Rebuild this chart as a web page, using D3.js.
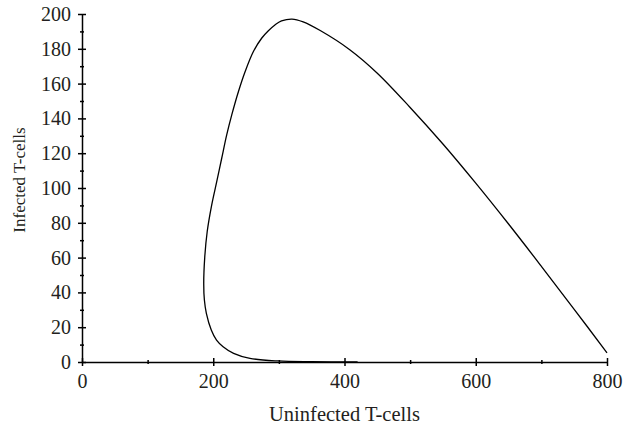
<!DOCTYPE html>
<html>
<head>
<meta charset="utf-8">
<script src="https://cdn.jsdelivr.net/npm/d3@7"></script>
<style>
  body { margin: 0; background: #fff; }
  text { font-family: "Liberation Serif", "DejaVu Serif", serif; fill: #231f20; }
</style>
</head>
<body>
<div id="chart"></div>
<script>
// Dimensions of the graph
const width = 623;
const height = 426;
const margin = { top: 14, right: 16, bottom: 64, left: 82 };
const innerW = width - margin.left - margin.right;
const innerH = height - margin.top - margin.bottom;

// Trajectory (uninfected, infected)
const uninfected = [800, 750, 700, 650, 600, 550, 500, 450, 408, 363, 337, 320, 304, 294, 284, 274, 261, 248.5, 238.3, 228.2, 220.5, 212.9, 205.3, 197.6, 190.8, 187, 185.5, 186.5, 189.5, 197, 205, 215, 231, 256, 299, 350, 420];
const infected   = [5.3, 30.3, 55, 79.3, 102.8, 125.3, 146.3, 166, 179.5, 190.5, 195.5, 197.1, 196, 193.7, 190.4, 186.2, 178.3, 166.8, 155.3, 142, 130.5, 117.1, 103.6, 90.2, 75, 60, 45, 35.6, 28, 18.4, 12.6, 8.8, 5, 2.1, 0.6, 0.15, 0];

const xMajor = [0, 200, 400, 600, 800];
const xMinor = [100, 300, 500, 700];
const yMajor = [0, 20, 40, 60, 80, 100, 120, 140, 160, 180, 200];
const yMinor = [10, 30, 50, 70, 90, 110, 130, 150, 170, 190];

const data = uninfected.map((u, i) => ({ u: u, v: infected[i] }));

const svg = d3
  .select("#chart")
  .append("svg")
  .attr("width", width)
  .attr("height", height)
  .append("g")
  .attr("transform", `translate(${margin.left}, ${margin.top})`);

const xScale = d3.scaleLinear().domain([0, 800]).range([0, innerW]);
const yScale = d3.scaleLinear().domain([0, 200]).range([innerH, 0]);

// Curve
const line = d3
  .line()
  .x((d) => xScale(d.u))
  .y((d) => yScale(d.v))
  .curve(d3.curveCatmullRom.alpha(0.5));

svg
  .append("path")
  .datum(data)
  .attr("d", line)
  .style("fill", "none")
  .style("stroke", "#000")
  .style("stroke-width", 1.3);

// x axis
const xAxis = svg
  .append("g")
  .attr("transform", `translate(0, ${innerH})`)
  .call(d3.axisBottom(xScale).tickValues(xMajor).tickSizeOuter(0).tickFormat(d3.format("d")));
xAxis.selectAll(".tick line").attr("y1", -4).attr("y2", 4);
xAxis.selectAll(".tick text").attr("y", 12).attr("dy", "0.71em");

const xAxisMinor = svg
  .append("g")
  .attr("transform", `translate(0, ${innerH})`)
  .call(d3.axisBottom(xScale).tickValues(xMinor).tickSizeOuter(0).tickFormat(""));
xAxisMinor.select(".domain").remove();
xAxisMinor.selectAll(".tick line").attr("y1", -2).attr("y2", 2);

// y axis
const yAxis = svg
  .append("g")
  .call(d3.axisLeft(yScale).tickValues(yMajor).tickSizeOuter(0));
yAxis.selectAll(".tick line").attr("x1", -4).attr("x2", 4);
yAxis.selectAll(".tick text").attr("x", -11);

const yAxisMinor = svg
  .append("g")
  .call(d3.axisLeft(yScale).tickValues(yMinor).tickSizeOuter(0).tickFormat(""));
yAxisMinor.select(".domain").remove();
yAxisMinor.selectAll(".tick line").attr("x1", -2).attr("x2", 2);

[xAxis, yAxis].forEach((g) => {
  g.attr("font-family", '"Liberation Serif", serif').attr("font-size", 20);
});
svg.selectAll(".domain, .tick line").style("stroke", "#000").style("stroke-width", 1.5);
svg.selectAll(".tick text")
  .style("fill", "#231f20")
  .style("font-family", '"Liberation Serif", serif')
  .style("font-size", "20px");

// Axis labels
svg
  .append("text")
  .attr("text-anchor", "middle")
  .attr("x", innerW / 2)
  .attr("y", innerH + 59)
  .style("font-size", "20.5px")
  .text("Uninfected T-cells");

svg
  .append("text")
  .attr("text-anchor", "middle")
  .attr("transform", `translate(${-57}, ${166}) rotate(-90)`)
  .style("font-size", "17px")
  .text("Infected T-cells");
</script>
</body>
</html>
